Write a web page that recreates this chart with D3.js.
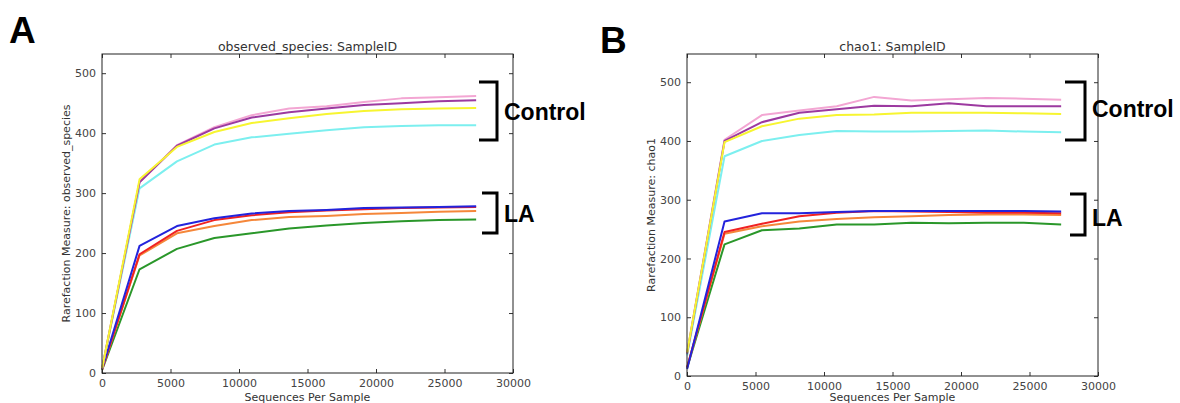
<!DOCTYPE html>
<html>
<head>
<meta charset="utf-8">
<script src="https://cdn.jsdelivr.net/npm/d3@7"></script>
<style>
  body { margin: 0; background: #fff; }
  svg text { font-family: "DejaVu Sans", sans-serif; }
</style>
</head>
<body>
<div id="chart"></div>
<script>
// rarefaction depths (sequences per sample)
const depths = [10, 2740, 5470, 8200, 10930, 13660, 16390, 19120, 21850, 24580, 27310];

const sampleNames = ["green", "orange", "red", "blue", "cyan", "pink", "purple", "yellow"];
const sampleColors = ["#2a972a", "#f5873a", "#f02222", "#2323dc", "#7cefef", "#f3a6d3", "#9c3aa0", "#f7f530"];

// observed_species
const obsGreen  = [5, 173, 207, 225, 233, 241, 246, 250, 253, 255, 256];
const obsOrange = [6, 196, 233, 245, 255, 260, 262, 265, 267, 269, 270];
const obsRed    = [6, 198, 237, 255, 263, 268, 271, 273, 275, 276, 277];
const obsBlue   = [7, 212, 245, 258, 266, 270, 272, 275, 276, 277, 278];
const obsCyan   = [8, 308, 353, 381, 393, 399, 405, 410, 412, 413, 413];
const obsPink   = [8, 318, 380, 410, 430, 441, 445, 452, 458, 460, 462];
const obsPurple = [8, 318, 379, 408, 426, 435, 441, 447, 450, 453, 455];
const obsYellow = [8, 323, 377, 402, 417, 425, 432, 437, 440, 441, 442];

// chao1
const chaoGreen  = [14, 224, 248, 251, 258, 258, 261, 260, 261, 261, 258];
const chaoOrange = [15, 242, 255, 263, 267, 270, 272, 274, 275, 275, 274];
const chaoRed    = [15, 245, 259, 272, 278, 281, 280, 279, 278, 278, 277];
const chaoBlue   = [12, 263, 277, 277, 279, 281, 281, 281, 281, 281, 280];
const chaoCyan   = [35, 374, 400, 410, 417, 416, 416, 417, 418, 416, 415];
const chaoPink   = [40, 402, 444, 452, 459, 475, 469, 471, 473, 472, 470];
const chaoPurple = [38, 400, 432, 448, 454, 460, 459, 464, 459, 459, 459];
const chaoYellow = [40, 398, 425, 438, 444, 445, 448, 448, 448, 447, 446];

const xTicks = [0, 5000, 10000, 15000, 20000, 25000, 30000];
const yTicks = [0, 100, 200, 300, 400, 500];

const svg = d3.select("#chart").append("svg")
    .attr("width", 1180)
    .attr("height", 403);

function drawPanel(opts) {
    const x = d3.scaleLinear().domain([0, 30000]).range([opts.left, opts.right]);
    const y = d3.scaleLinear().domain([0, opts.ymax]).range([opts.bottom, opts.top]);
    const g = svg.append("g");
    const fmt = d3.format("d");

    // series
    const line = d3.line().x((d, i) => x(depths[i])).y(d => y(d));
    opts.series.forEach((s, i) => {
        g.append("path")
         .datum(s)
         .attr("d", line)
         .attr("fill", "none")
         .attr("stroke", sampleColors[i])
         .attr("stroke-width", 2)
         .attr("stroke-linejoin", "round");
    });

    // axes, ticks pointing inward on all sides
    g.append("g")
     .attr("transform", `translate(0,${opts.bottom})`)
     .call(d3.axisBottom(x).tickValues(xTicks).tickFormat(fmt).tickSizeInner(-4).tickSizeOuter(0).tickPadding(6))
     .call(a => a.select(".domain").remove());
    g.append("g")
     .attr("transform", `translate(0,${opts.top})`)
     .call(d3.axisTop(x).tickValues(xTicks).tickSizeInner(-4).tickSizeOuter(0).tickFormat(""))
     .call(a => a.select(".domain").remove());
    g.append("g")
     .attr("transform", `translate(${opts.left},0)`)
     .call(d3.axisLeft(y).tickValues(yTicks).tickFormat(fmt).tickSizeInner(-4).tickSizeOuter(0).tickPadding(6))
     .call(a => a.select(".domain").remove());
    g.append("g")
     .attr("transform", `translate(${opts.right},0)`)
     .call(d3.axisRight(y).tickValues(yTicks).tickSizeInner(-4).tickSizeOuter(0).tickFormat(""))
     .call(a => a.select(".domain").remove());

    g.selectAll(".tick text")
     .attr("font-family", "DejaVu Sans, sans-serif")
     .attr("font-size", 11)
     .attr("fill", "#444");
    g.selectAll(".tick line").attr("stroke", "#333");

    g.append("rect")
     .attr("x", opts.left).attr("y", opts.top)
     .attr("width", opts.right - opts.left)
     .attr("height", opts.bottom - opts.top)
     .attr("fill", "none")
     .attr("stroke", "#222")
     .attr("stroke-width", 1);

    // title and axis labels
    const cx = (opts.left + opts.right) / 2;
    g.append("text")
     .attr("x", cx).attr("y", 51)
     .attr("text-anchor", "middle")
     .attr("font-size", 12.5)
     .attr("fill", "#333")
     .text(opts.title);
    g.append("text")
     .attr("x", cx).attr("y", 401)
     .attr("text-anchor", "middle")
     .attr("font-size", 11)
     .attr("fill", "#333")
     .text("Sequences Per Sample");
    g.append("text")
     .attr("transform", `translate(${opts.ylabelX},${(opts.top + opts.bottom) / 2}) rotate(-90)`)
     .attr("text-anchor", "middle")
     .attr("font-size", 11)
     .attr("fill", "#333")
     .text(opts.ylabel);

    // panel letter
    g.append("text")
     .attr("x", opts.letterX).attr("y", opts.letterY)
     .style("font-family", "Liberation Sans, Arial, sans-serif")
     .attr("font-size", 37)
     .attr("font-weight", "bold")
     .text(opts.letter);

    // group brackets
    opts.groups.forEach(b => {
        g.append("path")
         .attr("d", `M${b.x0},${b.y0}H${b.x1}V${b.y1}H${b.x0}`)
         .attr("fill", "none")
         .attr("stroke", "#000")
         .attr("stroke-width", 3);
        g.append("text")
         .attr("x", b.x1 + 7).attr("y", b.ty)
         .style("font-family", "Liberation Sans, Arial, sans-serif")
         .attr("font-size", 23)
         .attr("font-weight", "bold")
         .text(b.label);
    });
}

drawPanel({
    left: 102, right: 513, top: 54, bottom: 373, ymax: 532,
    title: "observed_species: SampleID",
    ylabel: "Rarefaction Measure: observed_species",
    ylabelX: 70,
    letter: "A", letterX: 9, letterY: 43,
    series: [obsGreen, obsOrange, obsRed, obsBlue, obsCyan, obsPink, obsPurple, obsYellow],
    groups: [
        { label: "Control", x0: 479, x1: 497, y0: 82, y1: 140, ty: 120 },
        { label: "LA", x0: 482, x1: 497, y0: 193, y1: 233, ty: 222 }
    ]
});

drawPanel({
    left: 687, right: 1098, top: 54, bottom: 376, ymax: 548,
    title: "chao1: SampleID",
    ylabel: "Rarefaction Measure: chao1",
    ylabelX: 655,
    letter: "B", letterX: 600, letterY: 53,
    series: [chaoGreen, chaoOrange, chaoRed, chaoBlue, chaoCyan, chaoPink, chaoPurple, chaoYellow],
    groups: [
        { label: "Control", x0: 1065, x1: 1085, y0: 82, y1: 140, ty: 117 },
        { label: "LA", x0: 1070, x1: 1085, y0: 194, y1: 235, ty: 226 }
    ]
});
</script>
</body>
</html>
